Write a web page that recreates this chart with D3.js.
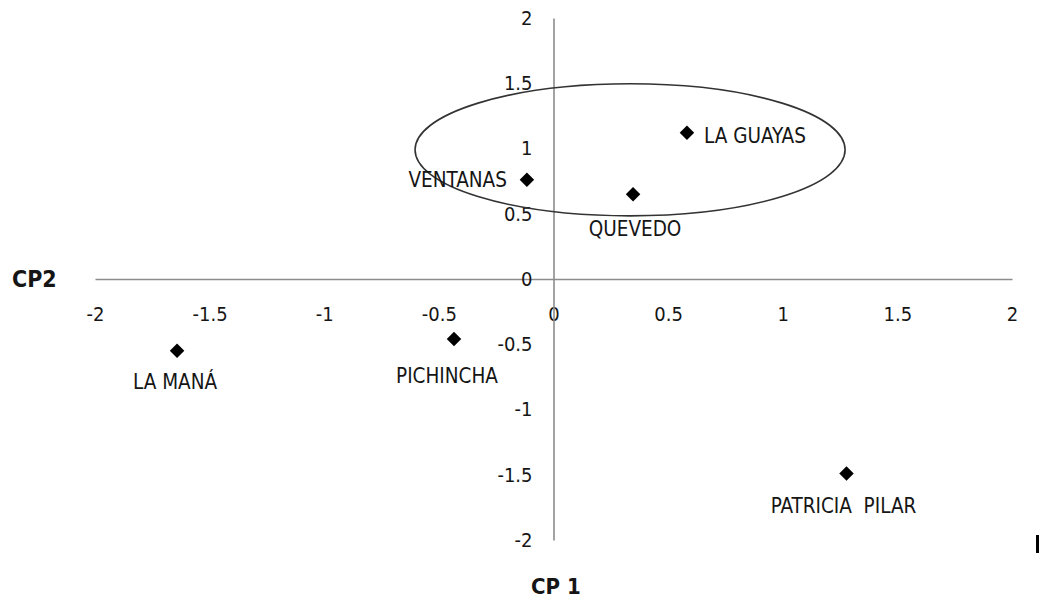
<!DOCTYPE html>
<html>
<head>
<meta charset="utf-8">
<script src="https://cdn.jsdelivr.net/npm/d3@7/dist/d3.min.js"></script>
<style>
  html, body { margin: 0; padding: 0; background: #fff; }
  svg { display: block; }
  text { font-family: "DejaVu Sans Condensed", "DejaVu Sans", sans-serif; fill: #151515; }
</style>
</head>
<body>
<svg id="chart" width="1039" height="600"></svg>
<script>
// ---- data ----
const names = ["VENTANAS", "QUEVEDO", "LA GUAYAS", "LA MANÁ", "PICHINCHA", "PATRICIA  PILAR"];
const cp1 = [-0.116, 0.347, 0.582, -1.642, -0.434, 1.278];
const cp2 = [0.76, 0.65, 1.12, -0.55, -0.46, -1.49];
const xTicks = [-2, -1.5, -1, -0.5, 0, 0.5, 1, 1.5, 2];
const yTicks = [-2, -1.5, -1, -0.5, 0, 0.5, 1, 1.5, 2];
// group ellipse (data units): centre, radii
const groupEllipse = { cx: 0.334, cy: 0.99, rx: 0.938, ry: 0.506 };

// label placement (pixels, relative to point)
const labelPlacement = {
  "VENTANAS": { anchor: "end", dx: -20, dy: 0 },
  "QUEVEDO": { anchor: "middle", dx: 2, dy: 35 },
  "LA GUAYAS": { anchor: "start", dx: 17, dy: 3 },
  "LA MANÁ": { anchor: "middle", dx: -2, dy: 31 },
  "PICHINCHA": { anchor: "middle", dx: -7, dy: 37 },
  "PATRICIA  PILAR": { anchor: "middle", dx: -3, dy: 33 }
};

const svg = d3.select("#chart");
const x = d3.scaleLinear().domain([-2, 2]).range([95, 1012]);
const y = d3.scaleLinear().domain([-2, 2]).range([540, 18]);

// x axis (through y=0)
const gx = svg.append("g")
  .attr("transform", `translate(0,${y(0)})`)
  .call(d3.axisBottom(x).tickValues(xTicks).tickFormat(d => String(d))
    .tickSize(0).tickSizeOuter(0).tickPadding(28));
// y axis (through x=0)
const gy = svg.append("g")
  .attr("transform", `translate(${x(0)},0)`)
  .call(d3.axisLeft(y).tickValues(yTicks).tickFormat(d => String(d))
    .tickSize(0).tickSizeOuter(0).tickPadding(21));

[gx, gy].forEach(g => {
  g.select(".domain").attr("stroke", "#8c8c8c").attr("stroke-width", 1.6);
  g.selectAll("text").attr("font-size", 20).attr("fill", "#151515")
    .style("font-family", "'DejaVu Sans Condensed', 'DejaVu Sans', sans-serif");
});

// ellipse
svg.append("ellipse")
  .attr("cx", x(groupEllipse.cx))
  .attr("cy", y(groupEllipse.cy))
  .attr("rx", x(groupEllipse.rx) - x(0))
  .attr("ry", y(0) - y(groupEllipse.ry))
  .attr("fill", "none")
  .attr("stroke", "#333")
  .attr("stroke-width", 1.6);

// points
const pts = names.map((n, i) => ({ name: n, x: cp1[i], y: cp2[i] }));
const sym = d3.symbol(d3.symbolSquare, 105);
svg.append("g").selectAll("path").data(pts).join("path")
  .attr("d", sym)
  .attr("transform", d => `translate(${x(d.x)},${y(d.y)}) rotate(45)`)
  .attr("fill", "#000");

// labels
svg.append("g").selectAll("text").data(pts).join("text")
  .attr("x", d => x(d.x) + labelPlacement[d.name].dx)
  .attr("y", d => y(d.y) + labelPlacement[d.name].dy)
  .attr("text-anchor", d => labelPlacement[d.name].anchor)
  .attr("dominant-baseline", "central")
  .attr("font-size", 20.5)
  .style("white-space", "pre")
  .attr("xml:space", "preserve")
  .text(d => d.name);

// axis titles
svg.append("text").attr("x", 12).attr("y", y(0))
  .attr("dominant-baseline", "central")
  .attr("font-size", 23).attr("font-weight", "bold")
  .text("CP2");
svg.append("text").attr("x", 531).attr("y", 586)
  .attr("dominant-baseline", "central")
  .attr("font-size", 22).attr("font-weight", "bold")
  .text("CP 1");

// cropped legend fragment at the right edge
svg.append("rect").attr("x", 1036).attr("y", 535).attr("width", 3).attr("height", 18).attr("fill", "#000");
</script>
</body>
</html>
